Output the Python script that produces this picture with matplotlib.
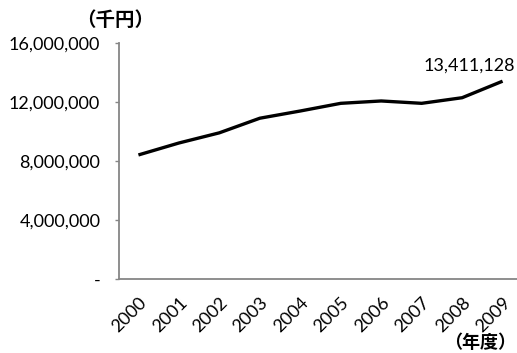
import matplotlib
matplotlib.use("Agg")
import matplotlib.pyplot as plt
from matplotlib.ticker import FuncFormatter

years = ["2000", "2001", "2002", "2003", "2004", "2005", "2006", "2007", "2008", "2009"]
values = [8410000, 9220000, 9910000, 10900000, 11390000, 11910000, 12070000, 11910000, 12290000, 13411128]
y_ticks = [0, 4000000, 8000000, 12000000, 16000000]

fig = plt.figure(figsize=(5.17, 3.53), dpi=100)
W, H = 517, 353
ax = fig.add_axes([119 / W, (H - 279) / H, 403 / W, 236 / H])

x = list(range(len(years)))
ax.plot(x, values, color="black", lw=2.4, solid_joinstyle="round", solid_capstyle="butt")

ax.set_xlim(-0.48, len(years) - 0.52)
ax.set_ylim(0, 16000000)
ax.set_yticks(y_ticks)
ax.yaxis.set_major_formatter(FuncFormatter(lambda v, p: "-" if v == 0 else f"{int(v):,}"))
ax.set_xticks(x)
ax.set_xticklabels(years, rotation=45, ha="right", va="top", rotation_mode="anchor")

num_font = "Lato"
for lab in ax.get_yticklabels() + ax.get_xticklabels():
    lab.set_fontfamily(num_font)
    lab.set_fontsize(13)
    lab.set_color("black")

ax.tick_params(axis="y", length=3, width=1, color="#868686", pad=10.5)
ax.tick_params(axis="x", length=0, pad=11)

for s in ["top", "right"]:
    ax.spines[s].set_visible(False)
for s in ["left", "bottom"]:
    ax.spines[s].set_color("#868686")
    ax.spines[s].set_linewidth(1.3)

# label for the final year
ax.annotate(f"{values[-1]:,}", (x[-1], values[-1]), xytext=(-24, 11),
            textcoords="offset points", ha="center", va="center",
            fontfamily=num_font, fontsize=13)

jp = ["Noto Sans CJK JP", "DejaVu Sans"]
fig.text(115 / W, 1 - 21 / H, "（千円）", ha="center", va="center",
         family=jp, fontsize=14, fontweight="bold")
fig.text(516 / W, 1 - 342 / H, "（年度）", ha="right", va="center",
         family=jp, fontsize=13, fontweight="bold")

fig.savefig("out.png", dpi=100)
